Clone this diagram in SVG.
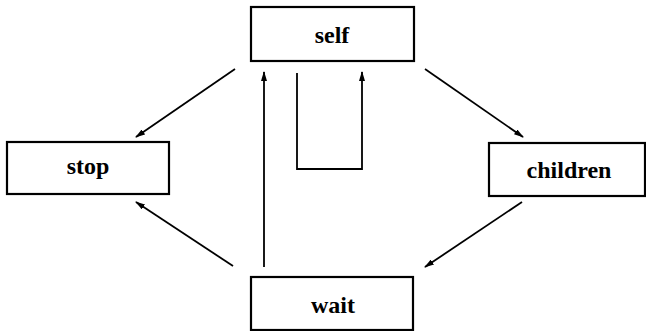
<svg xmlns="http://www.w3.org/2000/svg" width="646" height="331" viewBox="0 0 646 331">
<style>
.box{fill:#fff;stroke:#000;stroke-width:2.2}
.lbl{font-family:"Liberation Serif","DejaVu Serif",serif;font-weight:bold;font-size:24px;text-anchor:middle;fill:#000}
.edge{fill:none;stroke:#000;stroke-width:1.8}
</style>
<defs>
<marker id="ah" markerWidth="10" markerHeight="6" refX="9" refY="3" orient="auto" markerUnits="userSpaceOnUse">
<path d="M0,0 L10,3 L0,6 Z" fill="#000"/>
</marker>
</defs>
<rect width="646" height="331" fill="#fff"/>
<g id="self"><rect class="box" x="251" y="7" width="163" height="54"/><text class="lbl" x="332" y="43">self</text></g>
<g id="stop"><rect class="box" x="7" y="142" width="162" height="52"/><text class="lbl" x="88" y="174">stop</text></g>
<g id="children"><rect class="box" x="489" y="143" width="156" height="53"/><text class="lbl" x="569" y="178">children</text></g>
<g id="wait"><rect class="box" x="251" y="277" width="162" height="53"/><text class="lbl" x="333" y="313">wait</text></g>
<g id="connectors">
<line class="edge" x1="235" y1="69" x2="136" y2="137" marker-end="url(#ah)"/>
<line class="edge" x1="233" y1="266" x2="136" y2="202" marker-end="url(#ah)"/>
<line class="edge" x1="425" y1="69" x2="523" y2="137" marker-end="url(#ah)"/>
<line class="edge" x1="522" y1="202" x2="425" y2="267" marker-end="url(#ah)"/>
<line class="edge" x1="264" y1="267" x2="264" y2="72" marker-end="url(#ah)"/>
<polyline class="edge" points="297,73 297,169 362,169 362,72" marker-end="url(#ah)"/>
</g>
</svg>
